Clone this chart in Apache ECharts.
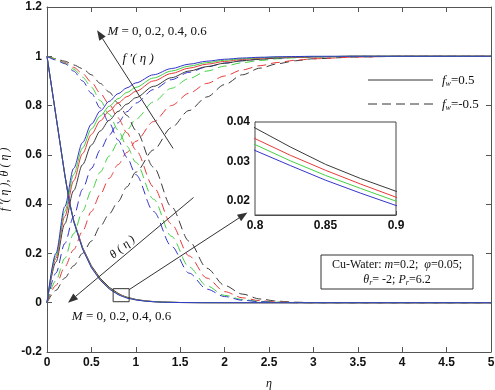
<!DOCTYPE html>
<html><head><meta charset="utf-8">
<script src="https://cdn.jsdelivr.net/npm/echarts@6/dist/echarts.min.js"></script>
<style>html,body{margin:0;padding:0;background:#fff}#c{width:495px;height:390px}</style>
</head><body><div id="c"></div>
<script>
// ---------- data ----------
const mValues = ['0', '0.2', '0.4', '0.6'];
const xTicks = [0, 0.5, 1, 1.5, 2, 2.5, 3, 3.5, 4, 4.5, 5];
const yTicks = [-0.2, 0, 0.2, 0.4, 0.6, 0.8, 1, 1.2];
const insetXTicks = [0.8, 0.85, 0.9];
const insetYTicks = [0.02, 0.03, 0.04];

const etaTheta = [0, 0.1, 0.2, 0.25, 0.3, 0.4, 0.5, 0.6, 0.7, 0.8, 0.825, 0.85, 0.875, 0.9, 1.0, 1.1, 1.2, 1.3, 1.5, 1.75, 2.0, 2.5, 3.0, 4.0, 5.0];
const etaB = [0, 0.1, 0.2, 0.3, 0.4, 0.5, 0.6, 0.7, 0.8, 0.9, 1.0, 1.2, 1.4, 1.6, 1.8, 2.0, 2.2, 2.4, 2.6, 2.8, 3.0, 3.5, 4.0, 5.0];

// theta(eta), fw = 0.5 (solid)
const thetaSolid_M0  = [1, 0.76, 0.52, 0.415, 0.335, 0.225, 0.15, 0.099, 0.063, 0.0385, 0.0337, 0.0293, 0.0257, 0.0225, 0.0135, 0.008, 0.0047, 0.0027, 0.0009, 0.0002, 0.00005, 0, 0, 0, 0];
const thetaSolid_M02 = [1, 0.76, 0.52, 0.414, 0.333, 0.222, 0.146, 0.095, 0.0595, 0.0358, 0.0316, 0.0278, 0.0243, 0.021, 0.0125, 0.0074, 0.0043, 0.0025, 0.0008, 0.0002, 0.00004, 0, 0, 0, 0];
const thetaSolid_M04 = [1, 0.76, 0.52, 0.413, 0.331, 0.22, 0.144, 0.093, 0.058, 0.0343, 0.0302, 0.0265, 0.0232, 0.0200, 0.012, 0.0071, 0.0041, 0.0024, 0.0008, 0.0002, 0.00004, 0, 0, 0, 0];
const thetaSolid_M06 = [1, 0.76, 0.52, 0.412, 0.33, 0.218, 0.142, 0.091, 0.056, 0.0328, 0.029, 0.0253, 0.022, 0.0189, 0.0113, 0.0067, 0.0039, 0.0022, 0.0007, 0.0001, 0.00003, 0, 0, 0, 0];

// f'(eta), fw = 0.5 (solid)
const fpSolid_M0  = [0, 0.165, 0.32, 0.455, 0.56, 0.64, 0.697, 0.74, 0.776, 0.806, 0.832, 0.878, 0.913, 0.94, 0.958, 0.972, 0.982, 0.988, 0.993, 0.996, 0.998, 1, 1, 1];
const fpSolid_M02 = [0, 0.18, 0.35, 0.495, 0.605, 0.683, 0.738, 0.778, 0.81, 0.836, 0.858, 0.9, 0.93, 0.952, 0.968, 0.979, 0.987, 0.992, 0.995, 0.997, 0.998, 1, 1, 1];
const fpSolid_M04 = [0, 0.19, 0.37, 0.52, 0.628, 0.705, 0.758, 0.797, 0.828, 0.853, 0.874, 0.912, 0.94, 0.96, 0.974, 0.984, 0.99, 0.994, 0.997, 0.998, 0.999, 1, 1, 1];
const fpSolid_M06 = [0, 0.2, 0.39, 0.545, 0.65, 0.725, 0.778, 0.817, 0.848, 0.872, 0.892, 0.925, 0.95, 0.968, 0.98, 0.988, 0.993, 0.996, 0.998, 0.999, 1, 1, 1, 1];

// f'(eta), fw = -0.5 (dashed)
const fpDashed_M0  = [0, 0.05, 0.1, 0.15, 0.2, 0.25, 0.31, 0.36, 0.41, 0.47, 0.53, 0.62, 0.71, 0.78, 0.835, 0.885, 0.925, 0.952, 0.97, 0.982, 0.99, 0.997, 1, 1];
const fpDashed_M02 = [0, 0.07, 0.145, 0.215, 0.29, 0.37, 0.44, 0.505, 0.56, 0.61, 0.655, 0.735, 0.80, 0.85, 0.89, 0.92, 0.945, 0.962, 0.975, 0.984, 0.99, 0.997, 1, 1];
const fpDashed_M04 = [0, 0.09, 0.18, 0.28, 0.37, 0.455, 0.53, 0.595, 0.65, 0.70, 0.745, 0.815, 0.87, 0.91, 0.94, 0.96, 0.974, 0.983, 0.99, 0.994, 0.997, 1, 1, 1];
const fpDashed_M06 = [0, 0.12, 0.24, 0.35, 0.46, 0.545, 0.62, 0.68, 0.73, 0.775, 0.81, 0.865, 0.905, 0.935, 0.957, 0.972, 0.982, 0.989, 0.993, 0.996, 0.998, 1, 1, 1];

// theta(eta), fw = -0.5 (dashed)
const thetaDashed_M0  = [1, 0.99, 0.98, 0.965, 0.95, 0.925, 0.89, 0.855, 0.81, 0.76, 0.70, 0.55, 0.39, 0.25, 0.14, 0.07, 0.035, 0.015, 0.006, 0.002, 0.0005, 0, 0, 0];
const thetaDashed_M02 = [1, 0.99, 0.975, 0.955, 0.93, 0.895, 0.85, 0.805, 0.75, 0.69, 0.62, 0.47, 0.32, 0.19, 0.1, 0.045, 0.02, 0.008, 0.003, 0.001, 0, 0, 0, 0];
const thetaDashed_M04 = [1, 0.99, 0.972, 0.948, 0.915, 0.875, 0.82, 0.765, 0.70, 0.635, 0.57, 0.42, 0.27, 0.145, 0.068, 0.03, 0.013, 0.005, 0.002, 0.0005, 0, 0, 0, 0];
const thetaDashed_M06 = [1, 0.985, 0.97, 0.94, 0.9, 0.85, 0.79, 0.73, 0.66, 0.59, 0.52, 0.37, 0.23, 0.12, 0.055, 0.025, 0.01, 0.004, 0.001, 0, 0, 0, 0, 0];

// ---------- chart ----------
const colors = ['#3a3a3a', '#e83a3a', '#44d044', '#3434cc'];
const serif = '"Liberation Serif", "Times New Roman", serif';
const sans = '"Liberation Sans", Arial, sans-serif';
const axisCol = '#555';
const dash = [9, 5];

function pairs(xs, ys) { return xs.map((x, i) => [x, ys[i]]); }

const groups = [
  { eta: etaB, sets: [fpDashed_M0, fpDashed_M02, fpDashed_M04, fpDashed_M06], dashed: true, smooth: 0.3 },
  { eta: etaB, sets: [thetaDashed_M0, thetaDashed_M02, thetaDashed_M04, thetaDashed_M06], dashed: true, smooth: 0.3 },
  { eta: etaB, sets: [fpSolid_M0, fpSolid_M02, fpSolid_M04, fpSolid_M06], dashed: false, smooth: 0.3 },
  { eta: etaTheta, sets: [thetaSolid_M0, thetaSolid_M02, thetaSolid_M04, thetaSolid_M06], dashed: false, smooth: false }
];

const series = [];
groups.forEach(g => {
  g.sets.forEach((ys, k) => {
    series.push({
      type: 'line', xAxisIndex: 0, yAxisIndex: 0,
      name: 'M=' + mValues[k],
      data: pairs(g.eta, ys),
      showSymbol: false, smooth: g.smooth, smoothMonotone: 'x',
      lineStyle: { color: colors[k], width: 1, type: g.dashed ? dash : 'solid' },
      silent: true, animation: false
    });
  });
});
[thetaSolid_M0, thetaSolid_M02, thetaSolid_M04, thetaSolid_M06].forEach((ys, k) => {
  series.push({
    type: 'line', xAxisIndex: 2, yAxisIndex: 2,
    data: pairs(etaTheta, ys), showSymbol: false, smooth: false, clip: true,
    lineStyle: { color: colors[k], width: 1 }, silent: true, animation: false
  });
});

const labelStyle = { color: '#111', fontFamily: sans, fontWeight: 'bold', fontSize: 12 };
const lineCol = { lineStyle: { color: axisCol, width: 1 } };

const option = {
  animation: false,
  backgroundColor: '#fff',
  grid: [
    { left: 47, right: 4, top: 7, bottom: 38, show: false, containLabel: false, outerBoundsMode: 'none' },
    { left: 255, top: 122, width: 141, height: 93, show: true, borderColor: '#444', borderWidth: 1, backgroundColor: '#fff', z: 3, containLabel: false, outerBoundsMode: 'none' }
  ],
  xAxis: [
    { type: 'value', gridIndex: 0, min: 0, max: 5, interval: 0.5, position: 'bottom',
      axisLine: Object.assign({ show: true, onZero: false }, lineCol),
      axisTick: Object.assign({ inside: true, length: 5, customValues: xTicks }, lineCol),
      axisLabel: Object.assign({ margin: 5, customValues: xTicks }, labelStyle),
      splitLine: { show: false },
      name: 'η', nameLocation: 'middle', nameGap: 26,
      nameTextStyle: { fontFamily: serif, fontStyle: 'italic', fontSize: 12, color: '#111' } },
    { type: 'value', gridIndex: 0, min: 0, max: 5, interval: 0.5, position: 'top',
      axisLine: Object.assign({ show: true, onZero: false }, lineCol),
      axisTick: Object.assign({ inside: true, length: 5, customValues: xTicks }, lineCol),
      axisLabel: { show: false }, splitLine: { show: false } },
    { type: 'value', gridIndex: 1, min: 0.8, max: 0.9, position: 'bottom',
      axisLine: Object.assign({ show: true, onZero: false }, lineCol),
      axisTick: Object.assign({ inside: true, length: 4, customValues: insetXTicks }, lineCol),
      axisLabel: Object.assign({ margin: 5, customValues: insetXTicks }, labelStyle),
      splitLine: { show: false } }
  ],
  yAxis: [
    { type: 'value', gridIndex: 0, min: -0.2, max: 1.2, interval: 0.2, position: 'left',
      axisLine: Object.assign({ show: true, onZero: false }, lineCol),
      axisTick: Object.assign({ inside: true, length: 5, customValues: yTicks }, lineCol),
      axisLabel: Object.assign({ margin: 5, customValues: yTicks }, labelStyle),
      splitLine: { show: false },
      name: 'f ′( η ), θ ( η )', nameLocation: 'middle', nameGap: 31, nameRotate: 90,
      nameTextStyle: { fontFamily: serif, fontStyle: 'italic', fontSize: 12, color: '#111' } },
    { type: 'value', gridIndex: 0, min: -0.2, max: 1.2, interval: 0.2, position: 'right',
      axisLine: Object.assign({ show: true, onZero: false }, lineCol),
      axisTick: Object.assign({ inside: true, length: 5, customValues: yTicks }, lineCol),
      axisLabel: { show: false }, splitLine: { show: false } },
    { type: 'value', gridIndex: 1, min: 0.0165, max: 0.04, position: 'left',
      axisLine: Object.assign({ show: true, onZero: false }, lineCol),
      axisTick: Object.assign({ inside: true, length: 4, customValues: insetYTicks }, lineCol),
      axisLabel: Object.assign({ margin: 5, customValues: insetYTicks }, labelStyle),
      splitLine: { show: false } }
  ],
  series: series
};

const chart = echarts.init(document.getElementById('c'));
chart.setOption(option);

// ---------- annotations ----------
function px(p) { return chart.convertToPixel({ gridIndex: 0 }, p); }
function arrow(from, to, col) {
  const a = px(from), b = px(to);
  const dx = b[0] - a[0], dy = b[1] - a[1];
  const L = Math.sqrt(dx * dx + dy * dy), ux = dx / L, uy = dy / L;
  const hl = 10, hw = 3.8;
  const bx = b[0] - ux * hl, by = b[1] - uy * hl;
  return [
    { type: 'line', shape: { x1: a[0], y1: a[1], x2: bx, y2: by }, style: { stroke: col, lineWidth: 1 }, z: 100 },
    { type: 'polygon', shape: { points: [[b[0], b[1]], [bx - uy * hw, by + ux * hw], [bx + uy * hw, by - ux * hw]] },
      style: { fill: col }, z: 100 }
  ];
}
const annCol = '#333';
const g = [];
g.push(...arrow([1.42, 0.626], [0.564, 1.106], annCol));
g.push(...arrow([1.65, 0.427], [0.237, 0.0], annCol));
g.push(...arrow([0.925, 0.053], [2.257, 0.366], annCol));
const r1 = px([0.745, 0.057]), r2 = px([0.925, 0.004]);
g.push({ type: 'rect', shape: { x: r1[0], y: r1[1], width: r2[0] - r1[0], height: r2[1] - r1[1] },
  style: { fill: 'none', stroke: annCol, lineWidth: 1 }, z: 100 });

const richBase = {
  i: { fontFamily: serif, fontStyle: 'italic', fontSize: 13, fill: '#111' },
  n: { fontFamily: serif, fontSize: 13, fill: '#111' },
  s: { fontFamily: serif, fontStyle: 'italic', fontSize: 8, fill: '#111', verticalAlign: 'bottom', padding: [6, 0, 0, 0] }
};
const tM1 = px([0.68, 1.1]);
g.push({ type: 'text', x: tM1[0], y: tM1[1], z: 101,
  style: { text: '{i|M}{n| = 0, 0.2, 0.4, 0.6}', rich: richBase, verticalAlign: 'middle', align: 'left' } });
const tF = px([0.85, 0.99]);
g.push({ type: 'text', x: tF[0], y: tF[1], z: 101,
  style: { text: '{i|f ′( η )}', rich: richBase, verticalAlign: 'middle', align: 'left' } });
const tM2 = px([0.28, -0.055]);
g.push({ type: 'text', x: tM2[0], y: tM2[1], z: 101,
  style: { text: '{i|M}{n| = 0, 0.2, 0.4, 0.6}', rich: richBase, verticalAlign: 'middle', align: 'left' } });
const tT = px([0.85, 0.225]);
g.push({ type: 'text', x: tT[0], y: tT[1], rotation: 40 * Math.PI / 180, z: 101,
  style: { text: 'θ ( η )', font: 'italic 12px ' + serif, fill: '#111', align: 'center', verticalAlign: 'middle' } });

// legend
g.push({ type: 'line', shape: { x1: 368, y1: 80, x2: 433, y2: 80 }, style: { stroke: '#333', lineWidth: 1 }, z: 101 });
g.push({ type: 'line', shape: { x1: 368, y1: 104, x2: 433, y2: 104 }, style: { stroke: '#333', lineWidth: 1, lineDash: dash }, z: 101 });
g.push({ type: 'text', x: 442, y: 81, z: 101,
  style: { text: '{i|f}{s|w}{n|=0.5}', rich: richBase, verticalAlign: 'middle', align: 'left' } });
g.push({ type: 'text', x: 442, y: 105, z: 101,
  style: { text: '{i|f}{s|w}{n|=-0.5}', rich: richBase, verticalAlign: 'middle', align: 'left' } });

// parameter box
const richBox = {
  i: { fontFamily: serif, fontStyle: 'italic', fontSize: 12, fill: '#111' },
  n: { fontFamily: serif, fontSize: 12, fill: '#111' },
  s: { fontFamily: serif, fontStyle: 'italic', fontSize: 8, fill: '#111', verticalAlign: 'bottom', padding: [5, 0, 0, 0] }
};
g.push({ type: 'rect', shape: { x: 321, y: 255, width: 152, height: 34 }, style: { fill: '#fff', stroke: '#333', lineWidth: 1 }, z: 100 });
g.push({ type: 'text', x: 397, y: 265, z: 101,
  style: { text: '{n|Cu-Water: }{i|m}{n|=0.2;  }{i|φ}{n|=0.05;}', rich: richBox, align: 'center', verticalAlign: 'middle' } });
g.push({ type: 'text', x: 397, y: 280, z: 101,
  style: { text: '{i|θ}{s|r}{n|= -2; }{i|P}{s|r}{n|=6.2}', rich: richBox, align: 'center', verticalAlign: 'middle' } });

chart.setOption({ graphic: { elements: g } });
</script>
</body></html>
